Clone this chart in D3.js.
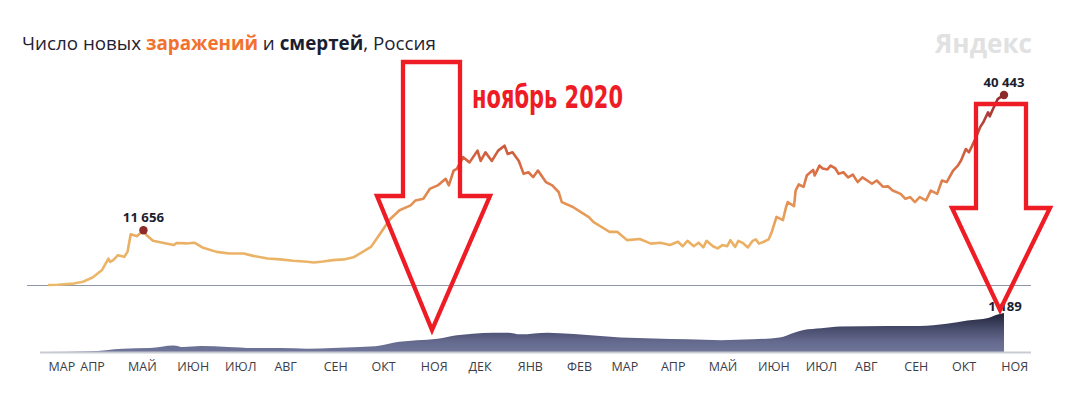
<!DOCTYPE html>
<html><head><meta charset="utf-8">
<script src="https://cdn.jsdelivr.net/npm/d3@7"></script>
<style>body{margin:0;background:#fff;} svg{display:block;}</style>
</head><body>
<svg id="c" width="1067" height="410"></svg>
<script>
const caseDates = ["2020-03-12","2020-03-18","2020-03-28","2020-04-03","2020-04-09","2020-04-15","2020-04-19","2020-04-20","2020-04-22","2020-04-25","2020-04-29","2020-05-01","2020-05-03","2020-05-07","2020-05-11","2020-05-13","2020-05-17","2020-05-23","2020-05-30","2020-06-01","2020-06-07","2020-06-12","2020-06-17","2020-06-26","2020-07-04","2020-07-13","2020-07-19","2020-07-28","2020-08-05","2020-08-13","2020-08-22","2020-08-26","2020-09-01","2020-09-07","2020-09-14","2020-09-20","2020-09-24","2020-10-01","2020-10-07","2020-10-13","2020-10-19","2020-10-26","2020-10-29","2020-11-03","2020-11-07","2020-11-12","2020-11-17","2020-11-19","2020-11-22","2020-11-24","2020-11-28","2020-12-02","2020-12-07","2020-12-09","2020-12-12","2020-12-16","2020-12-20","2020-12-24","2020-12-26","2020-12-29","2021-01-02","2021-01-05","2021-01-08","2021-01-11","2021-01-14","2021-01-19","2021-01-23","2021-01-27","2021-01-29","2021-02-05","2021-02-10","2021-02-15","2021-02-18","2021-02-23","2021-02-28","2021-03-05","2021-03-11","2021-03-19","2021-03-26","2021-04-01","2021-04-07","2021-04-12","2021-04-15","2021-04-18","2021-04-22","2021-04-25","2021-04-28","2021-04-30","2021-05-04","2021-05-07","2021-05-10","2021-05-13","2021-05-15","2021-05-18","2021-05-20","2021-05-23","2021-05-26","2021-05-29","2021-05-31","2021-06-02","2021-06-05","2021-06-08","2021-06-10","2021-06-13","2021-06-17","2021-06-19","2021-06-20","2021-06-24","2021-06-25","2021-06-27","2021-06-30","2021-07-02","2021-07-06","2021-07-07","2021-07-10","2021-07-12","2021-07-15","2021-07-17","2021-07-20","2021-07-22","2021-07-25","2021-07-28","2021-07-31","2021-08-03","2021-08-06","2021-08-09","2021-08-12","2021-08-15","2021-08-19","2021-08-22","2021-08-25","2021-08-30","2021-09-02","2021-09-05","2021-09-08","2021-09-11","2021-09-15","2021-09-18","2021-09-22","2021-09-25","2021-09-28","2021-10-02","2021-10-05","2021-10-07","2021-10-10","2021-10-12","2021-10-14","2021-10-16","2021-10-19","2021-10-21","2021-10-24","2021-10-25","2021-10-27","2021-10-30","2021-11-02","2021-11-03"];
const caseValues = [10,50,300,700,1600,3200,5600,4900,5300,6350,6000,7100,10800,10400,11656,10600,9400,9000,8500,8950,8850,9000,8000,7050,6700,6700,6200,5650,5450,5150,4950,4800,5000,5300,5450,5900,6700,8100,11000,14000,15900,16950,18000,18350,20450,21200,22600,21200,24350,24700,27200,26100,28600,26400,28250,26400,28600,29660,27900,28250,26400,23650,24000,22950,24350,21900,21200,19800,17650,16600,15500,14450,13400,12350,11300,11300,9550,9800,8800,9000,8500,9200,8250,9400,8250,9000,8000,9400,8250,7800,8500,8250,9550,8100,9400,8900,8000,9400,9700,8800,9200,9700,11300,14500,13800,16600,17650,16800,20100,21400,20900,23300,24500,23300,25400,24800,24600,25400,24800,23650,24000,22900,23500,21900,22900,22250,21550,22250,20900,21000,20100,19400,18350,18700,17650,18700,18000,20100,19400,22250,21900,24350,25400,26500,28950,28250,29660,31100,33600,34650,36750,35900,37400,39550,40250,40443];

const deathDates = ["2020-03-12","2020-04-07","2020-04-28","2020-05-15","2020-05-30","2020-06-05","2020-06-16","2020-07-03","2020-07-19","2020-08-05","2020-08-22","2020-09-07","2020-09-24","2020-10-07","2020-10-15","2020-10-30","2020-11-12","2020-11-24","2020-12-04","2020-12-17","2020-12-26","2021-01-03","2021-01-20","2021-01-28","2021-02-14","2021-03-07","2021-03-28","2021-04-18","2021-05-09","2021-05-29","2021-06-15","2021-06-24","2021-06-30","2021-07-11","2021-07-23","2021-08-22","2021-09-11","2021-09-28","2021-10-11","2021-10-24","2021-10-30","2021-11-03"];
const deathValues = [0,20,100,120,200,150,180,150,120,120,100,120,150,200,285,355,405,510,560,590,590,540,590,570,520,445,415,385,360,385,445,590,670,725,775,795,795,860,960,1035,1140,1189];

const monthTicks = ["2020-03-12","2020-04-01","2020-05-01","2020-06-01","2020-07-01","2020-08-01","2020-09-01","2020-10-01","2020-11-01","2020-12-01","2021-01-01","2021-02-01","2021-03-01","2021-04-01","2021-05-01","2021-06-01","2021-07-01","2021-08-01","2021-09-01","2021-10-01","2021-11-01"];
const monthLabels = ["МАР","АПР","МАЙ","ИЮН","ИЮЛ","АВГ","СЕН","ОКТ","НОЯ","ДЕК","ЯНВ","ФЕВ","МАР","АПР","МАЙ","ИЮН","ИЮЛ","АВГ","СЕН","ОКТ","НОЯ"];

const parse = d3.utcParse("%Y-%m-%d");
const cases = caseDates.map((d,i)=>({date:parse(d), v:caseValues[i]}));
const deaths = deathDates.map((d,i)=>({date:parse(d), v:deathValues[i]}));
const fmt = v => d3.format(",")(v).replace(/,/g," ");

const svg = d3.select("#c");
const defs = svg.append("defs");

const x = d3.scaleUtc().domain([parse("2020-03-12"), parse("2021-11-03")]).range([48, 1004]);
const yC = d3.scaleLinear().domain([0, d3.max(caseValues)]).range([285, 95]);
const yD = d3.scaleLinear().domain([0, d3.max(deathValues)]).range([352, 313]);

// title
const title = svg.append("text").attr("x", 22).attr("y", 50)
  .attr("font-family", "'Open Sans', 'Noto Sans', sans-serif").attr("font-size", 18.8).attr("fill", "#1f2233");
title.append("tspan").text("Число новых ");
title.append("tspan").text("заражений").attr("font-weight", 700).attr("fill", "#f2712d");
title.append("tspan").text(" и ");
title.append("tspan").text("смертей").attr("font-weight", 700).attr("fill", "#1b1e30");
title.append("tspan").text(", Россия");

// logo
svg.append("text").attr("x", 935).attr("y", 53).text("Яндекс")
  .attr("font-family", "'Open Sans', 'Noto Sans', sans-serif").attr("font-weight", 700)
  .attr("font-size", 27).attr("fill", "#e1e1e1").attr("textLength", 97).attr("lengthAdjust", "spacingAndGlyphs");

// separator line
svg.append("line").attr("x1", 27).attr("x2", 1031).attr("y1", 285.5).attr("y2", 285.5)
  .attr("stroke", "#8f94a8").attr("stroke-width", 1);

// deaths gradient
const dg = defs.append("linearGradient").attr("id", "dg").attr("gradientUnits", "userSpaceOnUse")
  .attr("x1", 0).attr("x2", 0).attr("y1", yD(d3.max(deathValues))).attr("y2", yD(0));
dg.append("stop").attr("offset", 0).attr("stop-color", "#1f2236");
dg.append("stop").attr("offset", 0.45).attr("stop-color", "#4c5172");
dg.append("stop").attr("offset", 0.75).attr("stop-color", "#656a8f");
dg.append("stop").attr("offset", 1).attr("stop-color", "#70759a");

svg.append("path").datum(deaths)
  .attr("d", d3.area().x(d=>x(d.date)).y0(yD(0)).y1(d=>yD(d.v)).curve(d3.curveMonotoneX))
  .attr("fill", "url(#dg)");

svg.append("line").attr("x1", 40).attr("x2", 1031).attr("y1", 352.5).attr("y2", 352.5)
  .attr("stroke", "#c9cbd3").attr("stroke-width", 2);

// cases gradient
const lg = defs.append("linearGradient").attr("id", "lg").attr("gradientUnits", "userSpaceOnUse")
  .attr("x1", 0).attr("x2", 0).attr("y1", yC(0)).attr("y2", yC(d3.max(caseValues)));
[[0,"#ecb96b"],[0.22,"#eab064"],[0.35,"#e89f5a"],[0.5,"#e08650"],[0.62,"#d86a42"],[0.72,"#cc5a3c"],[0.87,"#b5403a"],[1,"#952c2d"]]
  .forEach(s => lg.append("stop").attr("offset", s[0]).attr("stop-color", s[1]));

svg.append("path").datum(cases)
  .attr("d", d3.line().x(d=>x(d.date)).y(d=>yC(d.v)))
  .attr("fill", "none").attr("stroke", "url(#lg)").attr("stroke-width", 2.6).attr("stroke-linejoin", "round");

// peak markers
const firstPeak = cases[d3.maxIndex(cases.filter(d=>d.date < parse("2020-07-01")), d=>d.v)];
const lastPeak = cases[cases.length-1];
[firstPeak, lastPeak].forEach(p => {
  svg.append("circle").attr("cx", x(p.date)).attr("cy", yC(p.v)).attr("r", 4.2).attr("fill", "#8d2a2b");
  svg.append("text").attr("x", x(p.date)).attr("y", yC(p.v) - 8).attr("text-anchor", "middle")
    .attr("font-family", "'Open Sans', 'Noto Sans', sans-serif").attr("font-weight", 700).attr("font-size", 13.2)
    .attr("fill", "#1b1e30").text(fmt(p.v));
});
const lastDeath = deaths[deaths.length-1];
svg.append("text").attr("x", x(lastDeath.date)+1).attr("y", yD(lastDeath.v) - 2).attr("text-anchor", "middle")
  .attr("font-family", "'Open Sans', 'Noto Sans', sans-serif").attr("font-weight", 700).attr("font-size", 13.2)
  .attr("fill", "#1b1e30").text(fmt(lastDeath.v));

// axis
const axis = d3.axisBottom(x).tickValues(monthTicks.map(parse)).tickFormat((d,i)=>monthLabels[i]).tickSize(0).tickPadding(3);
const ag = svg.append("g").attr("transform", "translate(0,359)").call(axis);
ag.select(".domain").remove();
ag.selectAll("text").attr("text-anchor", "start").attr("fill", "#3b3d48")
  .attr("font-family", "'Open Sans', 'Noto Sans', sans-serif").attr("font-size", 12.5);

// red annotation arrows
const arrow = (l, r, top, neck, hl, hr, tipx, tipy) =>
  `M${l},${top}H${r}V${neck}H${hr}L${tipx},${tipy}L${hl},${neck}H${l}Z`;
svg.append("path").attr("d", arrow(403, 460, 62, 196, 377, 490, 432, 330))
  .attr("fill", "none").attr("stroke", "#ee1c25").attr("stroke-width", 4.3).attr("stroke-linejoin", "miter");
svg.append("path").attr("d", arrow(976, 1026, 104, 208, 952, 1050, 1000, 310))
  .attr("fill", "none").attr("stroke", "#ee1c25").attr("stroke-width", 4.3).attr("stroke-linejoin", "miter");

svg.append("text").attr("x", 472).attr("y", 108).text("ноябрь 2020")
  .attr("font-family", "'Liberation Sans Narrow', 'DejaVu Sans Condensed', sans-serif").attr("font-weight", 700)
  .attr("font-size", 32).attr("fill", "#ee1c25").attr("textLength", 151).attr("lengthAdjust", "spacingAndGlyphs");
</script>
</body></html>
